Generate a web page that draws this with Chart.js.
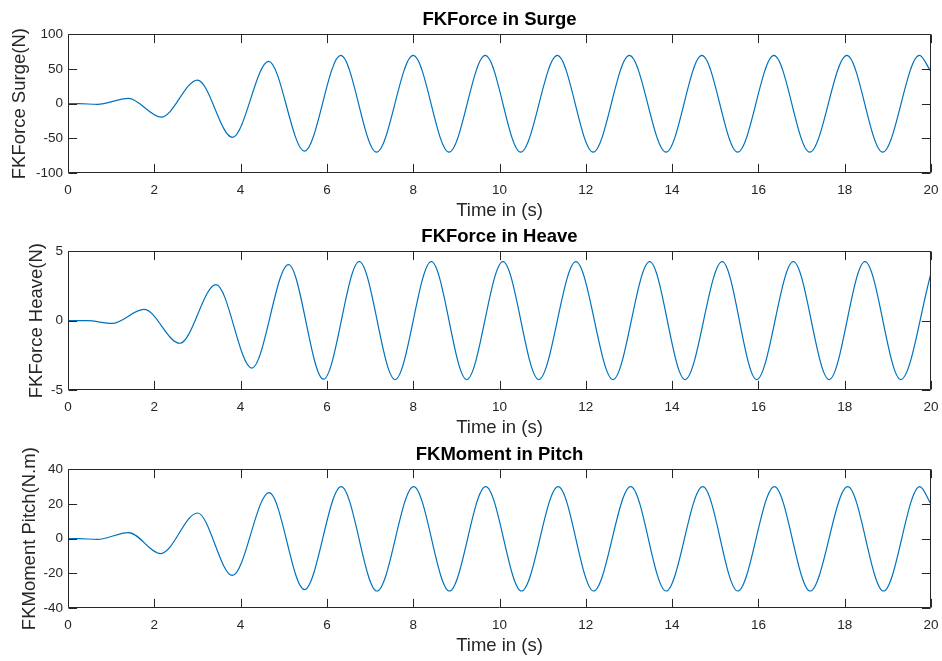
<!DOCTYPE html>
<html>
<head>
<meta charset="utf-8">
<script src="https://cdn.jsdelivr.net/npm/chart.js@4"></script>
<style>
  body { margin: 0; background: #fff; }
  #wrap { position: relative; width: 942px; height: 661px; }
  canvas { position: absolute; left: 0; }
</style>
</head>
<body>
<div id="wrap">
  <canvas id="surge" width="942" height="222" style="top:0px"></canvas>
  <canvas id="heave" width="942" height="222" style="top:217px"></canvas>
  <canvas id="pitch" width="942" height="222" style="top:435px"></canvas>
</div>
<script>
// values (peaks / troughs)
var surgeTime  = [0, 0.25, 0.68, 1.40, 2.16, 3.00, 3.81, 4.65, 5.48, 6.32, 7.15, 8.00, 8.83, 9.67, 10.49, 11.34, 12.17, 13.01, 13.86, 14.69, 15.52, 16.36, 17.19, 18.05, 18.88, 19.73, 20];
var surgeForce = [0, 0, -1, 7.5, -19.5, 34, -48.5, 61, -68.5, 69.5, -70, 69.5, -70, 69.5, -70, 69.5, -70, 69.5, -70, 69.5, -70, 69.5, -70, 69.5, -70, 69.5, 46];

var heaveTime  = [0, 0.45, 1.02, 1.76, 2.59, 3.43, 4.26, 5.11, 5.92, 6.75, 7.58, 8.42, 9.24, 10.08, 10.91, 11.77, 12.63, 13.48, 14.30, 15.16, 15.96, 16.81, 17.64, 18.47, 19.30, 20];
var heaveForce = [0, 0, -0.2, 0.81, -1.63, 2.6, -3.42, 4.04, -4.22, 4.25, -4.25, 4.25, -4.25, 4.25, -4.25, 4.25, -4.25, 4.25, -4.25, 4.25, -4.25, 4.25, -4.25, 4.25, -4.25, 3.4];

var pitchTime   = [0, 0.25, 0.68, 1.40, 2.15, 3.00, 3.81, 4.66, 5.48, 6.33, 7.16, 8.01, 8.84, 9.68, 10.51, 11.36, 12.18, 13.04, 13.86, 14.71, 15.52, 16.37, 17.20, 18.07, 18.90, 19.74, 20];
var pitchMoment = [0, 0, -0.4, 3.5, -8.6, 14.8, -21.2, 26.5, -29.4, 30, -30.2, 30, -30.2, 30, -30.2, 30, -30.2, 30, -30.2, 30, -30.2, 30, -30.2, 30, -30.2, 30, 19.8];

var axisColor = '#262626';
var lineColor = '#0072BD';
var fontFamily = '"Liberation Sans", Arial, Helvetica, sans-serif';

// matlab style box with inward ticks
var boxTicks = {
    id: 'boxTicks',
    afterDraw(chart) {
        const ctx = chart.ctx;
        const a = chart.chartArea;
        const x = chart.scales.x, y = chart.scales.y;
        const L = Math.round(a.left) + 0.5, R = Math.round(a.right) - 0.5;
        const T = Math.round(a.top) + 0.5, B = Math.round(a.bottom) - 0.5;
        const len = 8.6;
        ctx.save();
        ctx.strokeStyle = axisColor;
        ctx.lineWidth = 1;
        ctx.beginPath();
        ctx.rect(L, T, R - L, B - T);
        x.ticks.forEach(t => {
            const px = Math.round(x.getPixelForValue(t.value)) + 0.5;
            ctx.moveTo(px, B); ctx.lineTo(px, B - len);
            ctx.moveTo(px, T); ctx.lineTo(px, T + len);
        });
        y.ticks.forEach(t => {
            const py = Math.round(y.getPixelForValue(t.value)) + 0.5;
            ctx.moveTo(L, py); ctx.lineTo(L + len, py);
            ctx.moveTo(R, py); ctx.lineTo(R - len, py);
        });
        ctx.stroke();
        ctx.restore();
    }
};

function makeChart(id, times, values, title, yLabel, yMin, yMax, yStep, yTitlePad) {
    var pts = times.map((t, i) => ({x: t, y: values[i]}));
    return new Chart(document.getElementById(id), {
        type: 'line',
        data: {
            datasets: [{
                data: pts,
                borderColor: lineColor,
                borderWidth: 1.2,
                pointRadius: 0,
                fill: false,
                cubicInterpolationMode: 'monotone',
            }]
        },
        options: {
            responsive: false,
            animation: false,
            devicePixelRatio: 1,
            layout: {
                padding: {left: 0, right: 11, top: 0, bottom: 0}
            },
            plugins: {
                legend: {display: false},
                tooltip: {enabled: false},
                title: {
                    display: true,
                    fullSize: false,
                    text: title,
                    color: '#000',
                    font: {family: fontFamily, size: 18.5, weight: 'bold'},
                    padding: {top: 9, bottom: 3.1}
                }
            },
            scales: {
                x: {
                    type: 'linear',
                    min: 0,
                    max: 20,
                    border: {display: false},
                    grid: {display: false, drawTicks: false},
                    ticks: {
                        stepSize: 2,
                        autoSkip: false,
                        color: axisColor,
                        padding: 9,
                        font: {family: fontFamily, size: 13.5}
                    },
                    title: {
                        display: true,
                        text: 'Time in (s)',
                        color: axisColor,
                        font: {family: fontFamily, size: 18.5},
                        padding: {top: 0, bottom: 0}
                    },
                    afterFit: (s) => {
                        s.height = 49;
                        s.paddingLeft = 0;
                        s.paddingRight = 0;
                    }
                },
                y: {
                    min: yMin,
                    max: yMax,
                    border: {display: false},
                    grid: {display: false, drawTicks: false},
                    ticks: {
                        stepSize: yStep,
                        color: axisColor,
                        padding: 5,
                        font: {family: fontFamily, size: 13.5}
                    },
                    title: {
                        display: true,
                        text: yLabel,
                        color: axisColor,
                        font: {family: fontFamily, size: 18.5},
                        padding: {top: yTitlePad, bottom: 0}
                    },
                    afterFit: (s) => {
                        s.width = 68;
                        s.paddingTop = 0;
                        s.paddingBottom = 0;
                    }
                }
            }
        },
        plugins: [boxTicks]
    });
}

makeChart('surge', surgeTime, surgeForce, 'FKForce in Surge', 'FKForce Surge(N)', -100, 100, 50, 9);
makeChart('heave', heaveTime, heaveForce, 'FKForce in Heave', 'FKForce Heave(N)', -5, 5, 5, 26);
makeChart('pitch', pitchTime, pitchMoment, 'FKMoment in Pitch', 'FKMoment Pitch(N.m)', -40, 40, 20, 19);
</script>
</body>
</html>
